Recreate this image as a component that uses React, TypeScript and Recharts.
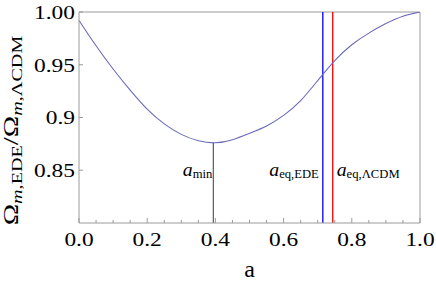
import { LineChart, Line, XAxis, YAxis, ReferenceLine, ReferenceDot, Label } from 'recharts'

// curve: Omega_m,EDE / Omega_m,LCDM against scale factor a
const aValues = [0, 0.05, 0.1, 0.15, 0.2, 0.25, 0.3, 0.35, 0.4, 0.45, 0.5, 0.55, 0.6, 0.65, 0.7, 0.75, 0.8, 0.85, 0.9, 0.95, 1.0]
const ratioValues = [0.992, 0.968, 0.946, 0.926, 0.908, 0.894, 0.884, 0.878, 0.876, 0.879, 0.885, 0.892, 0.902, 0.916, 0.935, 0.954, 0.969, 0.98, 0.989, 0.996, 1.0]

// ticks (empty label = minor tick)
const xTicks = [0, 0.05, 0.1, 0.15, 0.2, 0.25, 0.3, 0.35, 0.4, 0.45, 0.5, 0.55, 0.6, 0.65, 0.7, 0.75, 0.8, 0.85, 0.9, 0.95, 1.0]
const xTickLabels = ['0.0', '', '', '', '0.2', '', '', '', '0.4', '', '', '', '0.6', '', '', '', '0.8', '', '', '', '1.0']
const yTicks = [0.85, 0.9, 0.95, 1.0]
const yTickLabels = ['0.85', '0.9', '0.95', '1.00']

// marked scale factors
const aMin = 0.394
const ratioMin = 0.876
const aEqEDE = 0.715
const aEqLCDM = 0.744
const annotationLevel = 0.845

const data = aValues.map((a, i) => ({ a, r: ratioValues[i] }))

const SERIF = '"Liberation Serif", "Times New Roman", serif'
const AXIS = '#9a9a9a'

const findIdx = (list: number[], v: number) => list.findIndex((t) => Math.abs(t - v) < 1e-9)

function XTick({ x, y, payload }: any) {
  const label = xTickLabels[findIdx(xTicks, payload.value)] ?? ''
  const major = label !== ''
  return (
    <g>
      <line x1={x} x2={x} y1={y} y2={y - (major ? 5 : 3)} stroke={AXIS} />
      {major && (
        <text transform={`translate(${x},${y + 23}) scale(1.2,1)`} textAnchor="middle" fontSize={19.5} fontFamily={SERIF} fill="#000">
          {label}
        </text>
      )}
    </g>
  )
}

function YTick({ x, y, payload }: any) {
  const label = yTickLabels[findIdx(yTicks, payload.value)] ?? ''
  return (
    <g>
      <line x1={x} x2={x + 4} y1={y} y2={y} stroke={AXIS} />
      <text transform={`translate(${x - 4},${y}) scale(1.2,1)`} dy="0.35em" textAnchor="end" fontSize={19.5} fontFamily={SERIF} fill="#000">
        {label}
      </text>
    </g>
  )
}

function YTitle(props: any) {
  const vb = props.viewBox
  const cx = vb.x + 18
  const cy = vb.y + vb.height / 2 + 13
  return (
    <text transform={`translate(${cx},${cy}) rotate(-90) scale(1.44,1)`} textAnchor="middle" fontSize={20} fontFamily={SERIF} fill="#000">
      Ω<tspan fontStyle="italic" fontSize={14} dy={4}>m</tspan>
      <tspan fontSize={14}>,EDE</tspan>
      <tspan fontSize={20} dy={-4}>/Ω</tspan>
      <tspan fontStyle="italic" fontSize={14} dy={4}>m</tspan>
      <tspan fontSize={14}>,ΛCDM</tspan>
    </text>
  )
}

function XTitle(props: any) {
  const vb = props.viewBox
  return (
    <text x={vb.x + vb.width / 2} y={vb.y + 54} textAnchor="middle" fontSize={24} fontFamily={SERIF} fill="#000">
      a
    </text>
  )
}

function annotation(sub: string, side: 'left' | 'right', gap: number) {
  return (props: any) => {
    const vb = props.viewBox
    const x = side === 'left' ? vb.x - gap : vb.x + gap
    return (
      <text transform={`translate(${x},${vb.y}) scale(1.1,1)`} textAnchor={side === 'left' ? 'end' : 'start'} fontSize={18} fontFamily={SERIF} fill="#000">
        <tspan fontStyle="italic">a</tspan>
        <tspan fontSize={11.5} dy={2}>{sub}</tspan>
      </text>
    )
  }
}

export default function App() {
  return (
    <div style={{ position: 'absolute', left: 0, top: 0, background: '#fff' }}>
      <LineChart width={436} height={283} data={data} margin={{ top: 12, right: 16, bottom: 0, left: 0 }}>
        <XAxis
          dataKey="a"
          type="number"
          domain={[0, 1]}
          ticks={xTicks}
          interval={0}
          tick={<XTick />}
          tickSize={0}
          tickMargin={0}
          tickLine={false}
          axisLine={{ stroke: AXIS }}
          height={60}
        >
          <Label content={<XTitle />} />
        </XAxis>
        <YAxis
          type="number"
          domain={[0.8, 1.0]}
          allowDataOverflow
          ticks={yTicks}
          interval={0}
          tick={<YTick />}
          tickSize={0}
          tickMargin={0}
          tickLine={false}
          axisLine={{ stroke: AXIS }}
          width={79}
        >
          <Label content={<YTitle />} />
        </YAxis>
        <ReferenceLine y={1} stroke={AXIS} />
        <ReferenceLine x={1} stroke={AXIS} />
        <ReferenceLine
          segment={[
            { x: aMin, y: 0.8 },
            { x: aMin, y: ratioMin },
          ]}
          stroke="#666"
          strokeWidth={1.3}
        />
        <ReferenceLine x={aEqEDE} stroke="#0000ff" strokeWidth={1.3} />
        <ReferenceLine x={aEqLCDM} stroke="#ff0000" strokeWidth={1.3} />
        <ReferenceDot x={aMin} y={annotationLevel} r={0} fill="none" stroke="none">
          <Label content={annotation('min', 'left', 1)} />
        </ReferenceDot>
        <ReferenceDot x={aEqEDE} y={annotationLevel} r={0} fill="none" stroke="none">
          <Label content={annotation('eq,EDE', 'left', 4)} />
        </ReferenceDot>
        <ReferenceDot x={aEqLCDM} y={annotationLevel} r={0} fill="none" stroke="none">
          <Label content={annotation('eq,ΛCDM', 'right', 4)} />
        </ReferenceDot>
        <Line dataKey="r" type="natural" stroke="#6a6abc" strokeWidth={1.1} dot={false} isAnimationActive={false} />
      </LineChart>
    </div>
  )
}
